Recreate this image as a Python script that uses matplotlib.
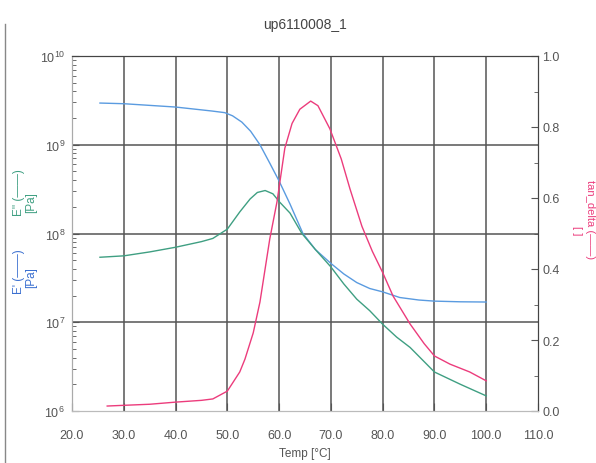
import matplotlib
matplotlib.use("Agg")
import matplotlib.pyplot as plt
from matplotlib.lines import Line2D
from matplotlib.ticker import (FixedLocator, MultipleLocator, LogLocator,
                               NullFormatter, FormatStrFormatter)

plt.rcParams['font.family'] = ['Liberation Sans', 'DejaVu Sans']

# storage modulus E' [Pa]
t_e1 = [25.4, 30, 40, 47, 49.5, 51, 52.8, 54.5, 56.3, 58.2, 60, 62.1, 64.6, 67, 70,
        72.5, 75, 77.5, 80, 83.3, 87, 90, 95, 100]
e1 = [2.95e9, 2.9e9, 2.66e9, 2.4e9, 2.3e9, 2.12e9, 1.8e9, 1.42e9, 1.0e9, 6.2e8,
      3.9e8, 2.15e8, 1.0e8, 6.6e7, 4.6e7, 3.5e7, 2.8e7, 2.4e7, 2.2e7, 1.9e7,
      1.78e7, 1.73e7, 1.7e7, 1.69e7]

# loss modulus E'' [Pa]
t_e2 = [25.4, 30, 35, 40, 45, 47.2, 50, 52.4, 54.4, 55.8, 57.3, 58.8, 60.1, 62.1,
        64.4, 67, 70, 72.5, 75, 77.5, 80, 82.7, 85.3, 90, 95, 100]
e2 = [5.4e7, 5.6e7, 6.2e7, 7.0e7, 8.1e7, 8.8e7, 1.12e8, 1.75e8, 2.45e8, 2.9e8,
      3.05e8, 2.8e8, 2.26e8, 1.7e8, 1.0e8, 6.6e7, 4.2e7, 2.7e7, 1.82e7, 1.35e7,
      9.5e6, 6.8e6, 5.2e6, 2.75e6, 2.0e6, 1.48e6]

# tan delta
t_td = [26.8, 30, 35, 40, 45, 47.2, 50, 52.4, 53.4, 55, 56.3, 58.2, 59.6, 60.2,
        61.1, 62.5, 64, 66.1, 67.5, 69.8, 72, 73.7, 76, 78, 80, 82, 85.3, 88, 90,
        93, 96.8, 100]
tan_d = [0.014, 0.016, 0.019, 0.025, 0.03, 0.034, 0.056, 0.11, 0.146, 0.22, 0.307,
         0.485, 0.59, 0.65, 0.74, 0.81, 0.85, 0.873, 0.86, 0.795, 0.71, 0.625,
         0.52, 0.45, 0.39, 0.324, 0.245, 0.19, 0.155, 0.132, 0.11, 0.085]

x_ticks = [20, 30, 40, 50, 60, 70, 80, 90, 100, 110]

c_blue = '#5a9be0'
c_green = '#3f9f82'
c_pink = '#ec3c7c'
c_grid = '#555555'
c_text = '#555555'

fig = plt.figure(figsize=(5.96, 4.64), dpi=100)
ax = fig.add_axes([72 / 596, 1 - 412 / 464, 466 / 596, 355 / 464])
ax2 = ax.twinx()

# left log axis
ax.set_yscale('log')
ax.set_ylim(1e6, 1e10)
ax.set_xlim(20, 110)
ax.plot(t_e1, e1, color=c_blue, lw=1.0, zorder=3)
ax.plot(t_e2, e2, color=c_green, lw=1.0, zorder=3)

# grid
for x in x_ticks[1:-1]:
    ax.axvline(x, color=c_grid, lw=1.1, zorder=1)
for y in [1e7, 1e8, 1e9]:
    ax.axhline(y, color=c_grid, lw=1.1, zorder=1)

ax.xaxis.set_major_locator(FixedLocator(x_ticks))
ax.xaxis.set_major_formatter(FormatStrFormatter('%.1f'))
ax.yaxis.set_major_locator(LogLocator(base=10, numticks=10))
ax.yaxis.set_minor_locator(LogLocator(base=10, subs=range(2, 10), numticks=20))
ax.yaxis.set_minor_formatter(NullFormatter())
ax.tick_params(axis='both', which='both', direction='in', colors=c_grid,
               labelcolor=c_text, labelsize=9)
ax.tick_params(axis='y', which='major', length=5, pad=5)
ax.tick_params(axis='y', which='minor', length=3)
ax.tick_params(axis='x', which='major', length=6, pad=13)

# right tan delta axis
ax2.plot(t_td, tan_d, color=c_pink, lw=1.0, zorder=3)
ax2.set_ylim(0, 1)
ax2.yaxis.set_major_locator(MultipleLocator(0.2))
ax2.yaxis.set_minor_locator(MultipleLocator(0.1))
ax2.yaxis.set_major_formatter(FormatStrFormatter('%.1f'))
ax2.tick_params(axis='y', which='both', direction='in', colors=c_grid,
                labelcolor=c_text, labelsize=9)
ax2.tick_params(axis='y', which='major', length=5, pad=3)
ax2.tick_params(axis='y', which='minor', length=3)

for a in (ax, ax2):
    a.spines['top'].set_color('#444444')
    a.spines['right'].set_color('#444444')
    a.spines['left'].set_color('#aaaaaa')
    a.spines['bottom'].set_color('#bbbbbb')

ax.set_title('up6110008_1', fontsize=10, color='#444444', pad=20)
ax.set_xlabel('Temp [°C]', fontsize=8.5, color=c_text, labelpad=4)

# axis labels
fig.text(19 / 596, 1 - 193 / 464, "E'' (——)", rotation=90, color=c_green,
         fontsize=8.5, ha='center', va='center')
fig.text(31 / 596, 1 - 203 / 464, "[Pa]", rotation=90, color=c_green,
         fontsize=8.5, ha='center', va='center')
fig.text(19 / 596, 1 - 272 / 464, "E' (——)", rotation=90, color='#3a6fd0',
         fontsize=8.5, ha='center', va='center')
fig.text(31 / 596, 1 - 278 / 464, "[Pa]", rotation=90, color='#3a6fd0',
         fontsize=8.5, ha='center', va='center')
fig.text(590 / 596, 1 - 220 / 464, "tan_delta (——)", rotation=-90, color=c_pink,
         fontsize=8, ha='center', va='center')
fig.text(577 / 596, 1 - 231 / 464, "[ ]", rotation=-90, color=c_pink,
         fontsize=8, ha='center', va='center')

# page border line on the left
fig.add_artist(Line2D([5 / 596, 5 / 596], [0, 1 - 25 / 464], color='#888888',
                      lw=1.0, transform=fig.transFigure))

fig.savefig('out.png', dpi=100)
